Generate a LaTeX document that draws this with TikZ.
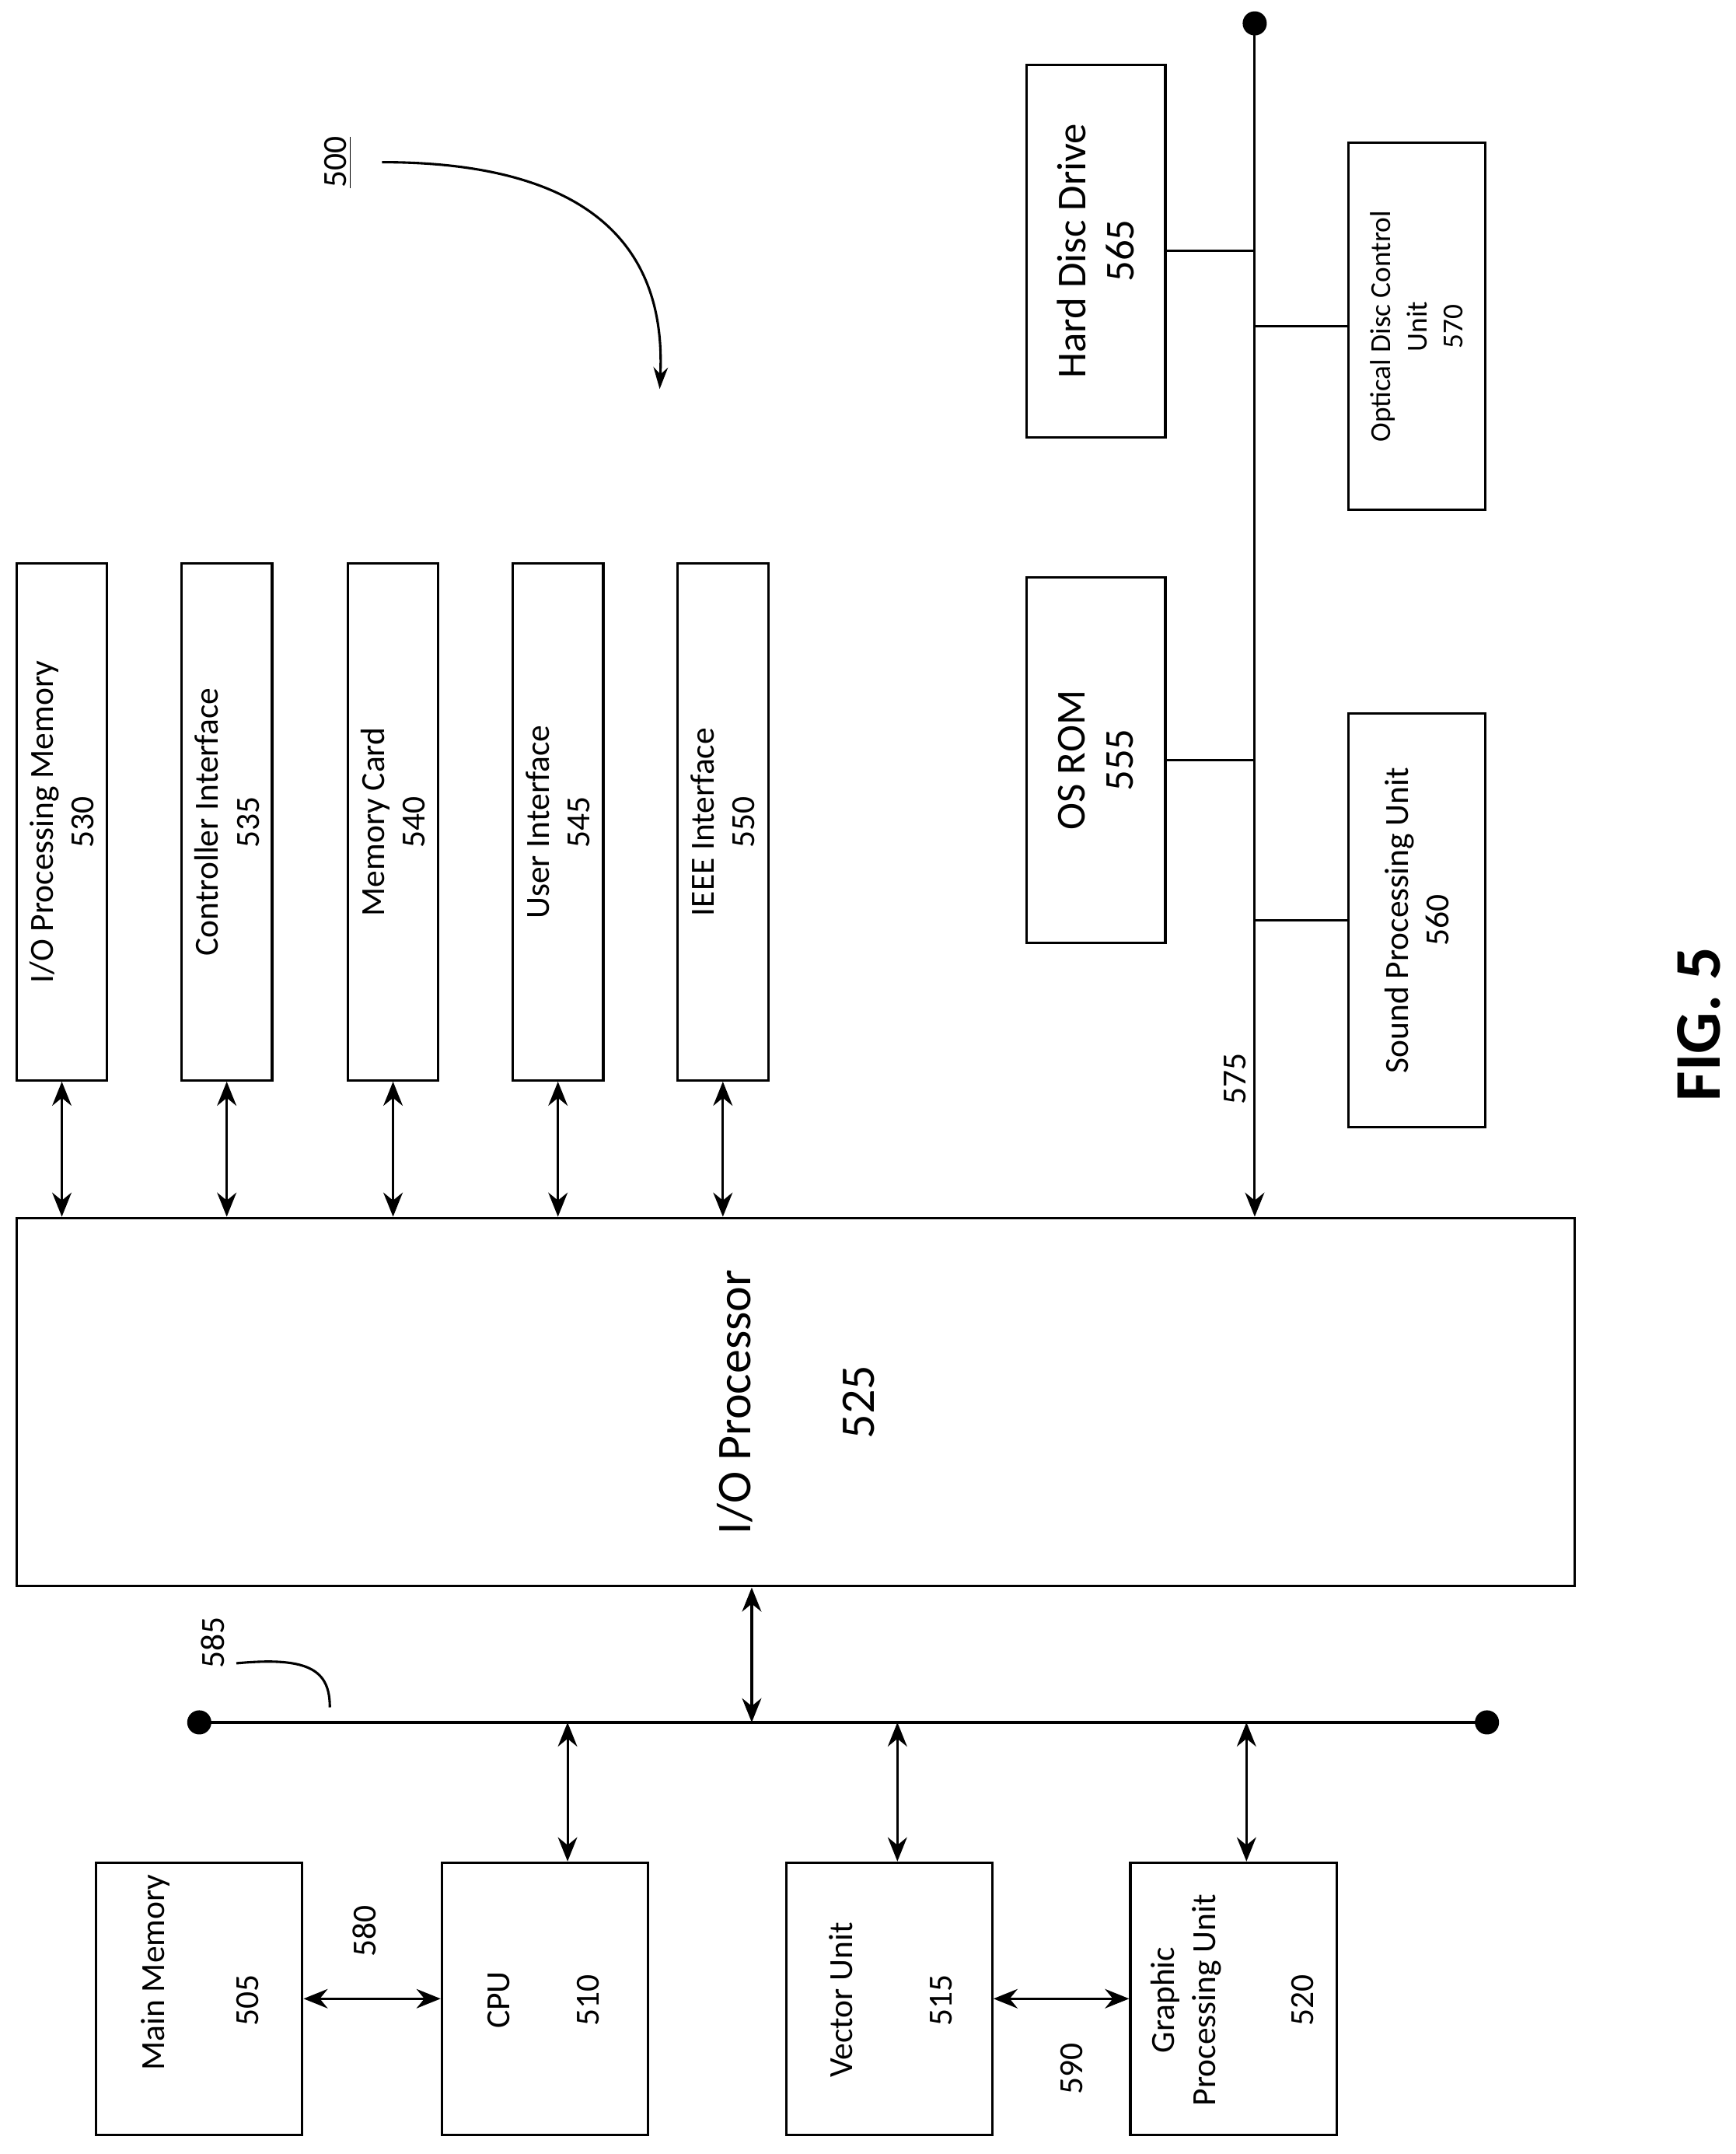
\documentclass[tikz,border=0pt]{standalone}
\usepackage{fontspec}
\setmainfont{Carlito}
\usetikzlibrary{arrows.meta}
\begin{document}
\begin{tikzpicture}[x=0.02cm,y=-0.02cm,
 box/.style={draw,line width=1pt,inner sep=0pt},
 txt/.style={rotate=90,align=center,font=\fontsize{14}{17}\selectfont,inner sep=0pt},
 dbl/.style={{Stealth[length=10pt,width=8pt]}-{Stealth[length=10pt,width=8pt]},line width=1pt},
 ln/.style={line width=1pt}]
\useasboundingbox (0,0) rectangle (1263,1567);
% top boxes
\foreach \n/\x/\a in {530/45/{I/O Processing Memory},535/165/{Controller Interface},540/286/{Memory Card},545/406/{User Interface},550/526/{IEEE Interface}}{
 \node[box,minimum width=1.32cm,minimum height=7.52cm] (b\n) at (\x,598) {};
 \node[txt] (t\n) at (\x,598) {\a\\\n};
}
\node[box,minimum width=22.68cm,minimum height=5.36cm] (io) at (579,1020) {};
\node[txt,font=\fontsize{20}{23}\selectfont] (iot) at (535,1020) {I/O Processor};
\node[txt,font=\fontsize{20}{23}\selectfont] (ion) at (625,1020) {525};
\foreach \n in {530,535,540,545,550}{\draw[dbl] (b\n.south) -- (b\n.south |- io.north);}
% right side
\node[box,minimum width=2.02cm,minimum height=5.42cm] (hdd) at (797.5,182.5) {};
\node[txt,font=\fontsize{17}{20}\selectfont] (hddt) at (797.5,182.5) {Hard Disc Drive\\565};
\node[box,minimum width=2.0cm,minimum height=5.34cm] (odc) at (1031,237.5) {};
\node[txt,font=\fontsize{12}{15}\selectfont] (odct) at (1031,237.5) {Optical Disc Control\\Unit\\570};
\node[box,minimum width=2.02cm,minimum height=5.32cm] (rom) at (797.5,553) {};
\node[txt,font=\fontsize{17}{20}\selectfont] (romt) at (797.5,553) {OS ROM\\555};
\node[box,minimum width=2.0cm,minimum height=6.02cm] (snd) at (1031,669.5) {};
\node[txt] (sndt) at (1031,669.5) {Sound Processing Unit\\560};
\coordinate (btop) at (913,17);
\fill (btop) circle (5pt);
\draw[ln,-{Stealth[length=10pt,width=8pt]}] (btop) -- (btop |- io.north);
\draw[ln] (hdd.east) -- (hdd.east -| btop);
\draw[ln] (rom.east) -- (rom.east -| btop);
\draw[ln] (odc.west) -- (odc.west -| btop);
\draw[ln] (snd.west) -- (snd.west -| btop);
\node[txt] (l575) at (899,785) {575};
% 500
\node[txt,font=\fontsize{14}{16}\selectfont] (l500) at (246,118) {\underline{500}};
\coordinate (c500) at (278,118);
\coordinate (e500) at (480,283);
\draw[ln,-{Stealth[length=9pt,width=6pt]}] (c500) .. controls (430,118) and (485,180) .. (e500);
% FIG
\node[txt,font=\fontsize{27}{30}\selectfont\bfseries] (fig) at (1236,745) {FIG. 5};
% bus 585
\coordinate (bl) at (145,1253);
\coordinate (br) at (1082,1253);
\fill (bl) circle (5pt); \fill (br) circle (5pt);
\draw[ln] (bl) -- (br);
\node[txt] (l585) at (155,1195) {585};
\coordinate (k1) at (172,1210);
\coordinate (k2) at (240,1242);
\draw[ln] (k1) .. controls (225,1205) and (240,1215) .. (k2);
\draw[dbl] ([xshift=-0.64cm]io.south) -- ([xshift=-0.64cm]io.south |- bl);
% bottom boxes
\node[box,minimum width=3cm,minimum height=3.96cm] (mm) at (145,1454) {};
\node[box,minimum width=3cm,minimum height=3.96cm] (cpu) at (396.5,1454) {};
\node[box,minimum width=3cm,minimum height=3.96cm] (vu) at (647,1454) {};
\node[box,minimum width=3cm,minimum height=3.96cm] (gpu) at (897.5,1454) {};
\node[txt] (mmt) at (113,1435) {Main Memory};
\node[txt] (mmn) at (180,1455) {505};
\node[txt] (cput) at (363,1455) {CPU};
\node[txt] (cpun) at (428,1455) {510};
\node[txt] (vut) at (612,1455) {Vector Unit};
\node[txt] (vun) at (685,1455) {515};
\node[txt] (gput) at (863,1455) {Graphic\\Processing Unit};
\node[txt] (gpun) at (948,1455) {520};
\draw[dbl] ([xshift=0.33cm]cpu.north) -- ([xshift=0.33cm]cpu.north |- bl);
\draw[dbl] ([xshift=0.12cm]vu.north) -- ([xshift=0.12cm]vu.north |- bl);
\draw[dbl] ([xshift=0.19cm]gpu.north) -- ([xshift=0.19cm]gpu.north |- bl);
\draw[dbl] (mm.east) -- (cpu.west);
\draw[dbl] (vu.east) -- (gpu.west);
\node[txt] (l580) at (265,1405) {580};
\node[txt] (l590) at (780,1505) {590};
\end{tikzpicture}
\end{document}
